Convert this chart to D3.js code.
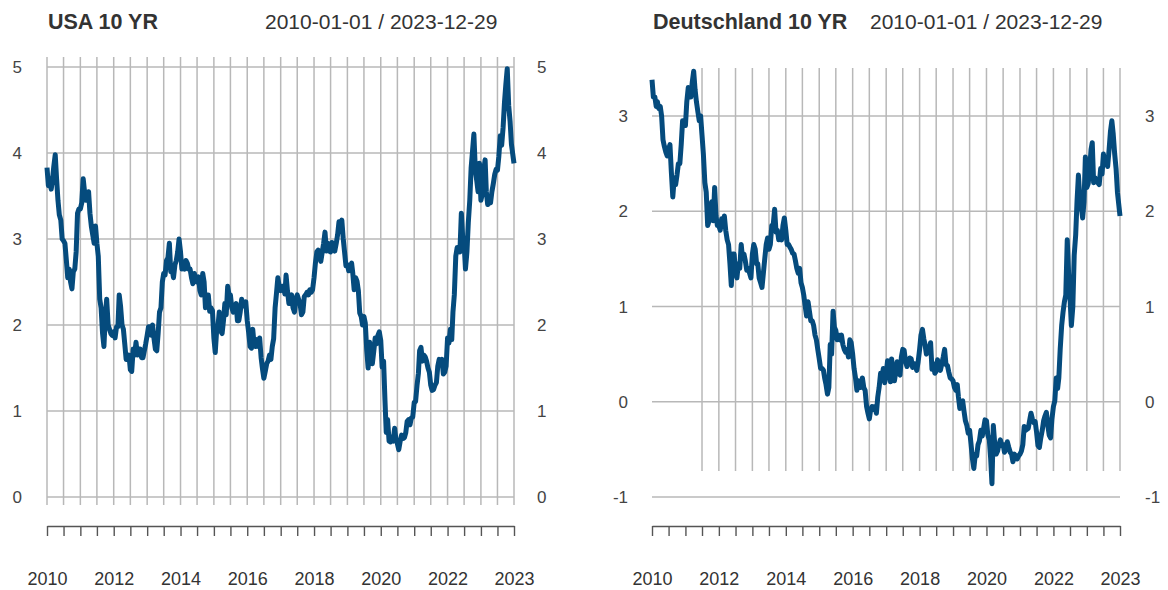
<!DOCTYPE html>
<html>
<head>
<meta charset="utf-8">
<script src="https://cdn.jsdelivr.net/npm/d3@7"></script>
<style>
  body { margin: 0; background: #fff; }
  text { font-family: "Liberation Sans", Arial, sans-serif; }
</style>
</head>
<body>
<script>
// semi-monthly readings (1st and 16th of each month), Jan 2010 .. Dec 2023
var usaYield = [
  3.83,3.62, 3.70,3.58, 3.68,3.84, 3.98,3.70, 3.45,3.28, 3.22,3.00, 2.98,2.95, 2.75,2.55, 2.65,2.50, 2.42,2.62, 2.65,2.85, 3.30,3.35,
  3.35,3.42, 3.70,3.55, 3.45,3.45, 3.55,3.30, 3.15,3.05, 2.95,3.15, 2.95,2.80, 2.30,2.20, 1.90,1.75, 2.10,2.30, 2.00,1.95, 1.90,1.88,
  1.92,1.85, 1.98,1.98, 2.35,2.22, 2.00,1.95, 1.78,1.60, 1.62,1.65, 1.48,1.46, 1.72,1.65, 1.80,1.65, 1.72,1.72, 1.62,1.62, 1.70,1.78,
  1.88,1.98, 1.98,1.88, 2.00,1.85, 1.72,1.70, 1.90,2.15, 2.20,2.50, 2.60,2.58, 2.75,2.78, 2.95,2.62, 2.65,2.55, 2.70,2.75, 2.85,3.00,
  2.85,2.65, 2.72,2.65, 2.75,2.72, 2.65,2.65, 2.55,2.48, 2.60,2.53, 2.50,2.56, 2.40,2.35, 2.60,2.50, 2.20,2.35, 2.35,2.16, 2.20,2.17,
  1.85,1.68, 1.95,2.00, 2.15,1.93, 1.90,2.05, 2.25,2.12, 2.45,2.35, 2.35,2.20, 2.15,2.20, 2.25,2.05, 2.05,2.15, 2.30,2.22, 2.25,2.27,
  2.05,1.92, 1.75,1.73, 1.95,1.78, 1.75,1.83, 1.75,1.85, 1.62,1.49, 1.38,1.46, 1.55,1.58, 1.65,1.60, 1.75,1.84, 2.20,2.37, 2.55,2.45,
  2.40,2.45, 2.45,2.36, 2.58,2.40, 2.25,2.28, 2.35,2.20, 2.15,2.30, 2.35,2.30, 2.25,2.12, 2.15,2.33, 2.35,2.38, 2.35,2.41, 2.38,2.41,
  2.55,2.72, 2.85,2.87, 2.85,2.74, 2.85,2.95, 3.08,2.86, 2.95,2.86, 2.85,2.96, 2.90,2.86, 2.95,3.05, 3.20,3.15, 3.22,3.01, 2.85,2.69,
  2.70,2.63, 2.68,2.72, 2.60,2.41, 2.55,2.51, 2.40,2.14, 2.10,2.00, 2.10,2.02, 1.70,1.50, 1.80,1.68, 1.55,1.69, 1.85,1.78, 1.88,1.92,
  1.82,1.51, 1.58,1.13, 0.75,0.90, 0.65,0.64, 0.70,0.65, 0.80,0.66, 0.62,0.55, 0.65,0.72, 0.68,0.69, 0.75,0.88, 0.90,0.84, 0.92,0.93,
  1.10,1.11, 1.30,1.44, 1.70,1.74, 1.58,1.65, 1.63,1.58, 1.50,1.45, 1.30,1.24, 1.25,1.30, 1.33,1.52, 1.60,1.55, 1.60,1.43, 1.45,1.52,
  1.85,1.79, 1.95,1.83, 2.15,2.35, 2.80,2.90, 2.90,2.85, 3.30,3.01, 2.95,2.65, 2.85,3.19, 3.45,3.83, 4.02,4.22, 3.80,3.68, 3.55,3.88,
  3.45,3.52, 3.80,3.92, 3.55,3.40, 3.45,3.42, 3.55,3.64, 3.75,3.81, 3.80,3.96, 4.20,4.09, 4.30,4.59, 4.80,4.98, 4.55,4.37, 4.10,3.88
];
var deYield = [
  3.38,3.20, 3.20,3.10, 3.15,3.08, 3.10,3.00, 2.75,2.68, 2.62,2.58, 2.65,2.70, 2.40,2.15, 2.35,2.28, 2.38,2.50, 2.50,2.70, 2.95,2.95,
  2.90,3.15, 3.30,3.20, 3.20,3.35, 3.47,3.28, 3.15,3.05, 2.95,3.00, 2.80,2.60, 2.30,2.20, 1.85,1.90, 2.05,2.10, 1.90,2.25, 1.95,1.85,
  1.85,1.80, 1.92,1.85, 1.95,1.80, 1.70,1.65, 1.45,1.22, 1.55,1.55, 1.35,1.30, 1.45,1.40, 1.65,1.50, 1.55,1.48, 1.38,1.40, 1.35,1.30,
  1.55,1.65, 1.60,1.45, 1.45,1.30, 1.25,1.20, 1.35,1.50, 1.65,1.72, 1.60,1.65, 1.85,1.85, 2.02,1.78, 1.80,1.70, 1.75,1.70, 1.85,1.93,
  1.80,1.65, 1.65,1.62, 1.60,1.56, 1.55,1.48, 1.40,1.35, 1.40,1.25, 1.20,1.12, 1.00,0.90, 1.05,0.95, 0.85,0.85, 0.80,0.70, 0.65,0.55,
  0.45,0.35, 0.35,0.33, 0.25,0.18, 0.08,0.15, 0.60,0.50, 0.95,0.78, 0.75,0.65, 0.70,0.65, 0.70,0.60, 0.55,0.52, 0.55,0.47, 0.65,0.62,
  0.50,0.35, 0.25,0.12, 0.22,0.15, 0.15,0.25, 0.15,0.12, -0.05,-0.12, -0.18,-0.08, -0.05,-0.08, -0.05,-0.12, 0.05,0.15, 0.30,0.25, 0.35,0.20,
  0.30,0.43, 0.35,0.21, 0.45,0.33, 0.22,0.32, 0.42,0.30, 0.28,0.47, 0.55,0.54, 0.42,0.37, 0.40,0.46, 0.45,0.36, 0.40,0.37, 0.33,0.42,
  0.55,0.70, 0.76,0.66, 0.60,0.50, 0.55,0.56, 0.62,0.34, 0.40,0.30, 0.32,0.44, 0.35,0.33, 0.40,0.47, 0.55,0.39, 0.38,0.31, 0.25,0.24,
  0.22,0.15, 0.12,0.18, 0.05,-0.07, 0.00,0.01, -0.10,-0.20, -0.25,-0.33, -0.30,-0.44, -0.60,-0.70, -0.55,-0.57, -0.45,-0.41, -0.30,-0.36, -0.28,-0.19,
  -0.20,-0.35, -0.40,-0.60, -0.86,-0.25, -0.45,-0.55, -0.52,-0.45, -0.40,-0.46, -0.45,-0.53, -0.50,-0.42, -0.48,-0.53, -0.55,-0.63, -0.55,-0.57, -0.60,-0.57,
  -0.55,-0.52, -0.45,-0.26, -0.30,-0.29, -0.28,-0.20, -0.12,-0.18, -0.22,-0.21, -0.32,-0.46, -0.48,-0.38, -0.30,-0.20, -0.15,-0.11, -0.25,-0.35, -0.38,-0.18,
  -0.05,0.01, 0.25,0.14, 0.25,0.55, 0.80,0.94, 1.05,1.12, 1.70,1.34, 1.10,0.80, 1.00,1.54, 1.75,2.11, 2.38,2.14, 2.05,1.93, 2.10,2.57,
  2.25,2.29, 2.45,2.65, 2.72,2.30, 2.35,2.31, 2.30,2.28, 2.45,2.39, 2.60,2.49, 2.55,2.47, 2.65,2.84, 2.95,2.81, 2.60,2.45, 2.20,1.95
];
var startDate = new Date(2010, 0, 1);
var endDate = new Date(2023, 11, 29);
var usaTicks = [0, 1, 2, 3, 4, 5];
var deTicks = [-1, 0, 1, 2, 3];
var yearLabels = [2010, 2012, 2014, 2016, 2018, 2020, 2022];

var dates = d3.range(usaYield.length).map(function(i) {
  return new Date(2010, Math.floor(i / 2), i % 2 ? 16 : 1);
});
dates[0] = startDate;
dates[dates.length - 1] = endDate;

var svg = d3.select("body")
  .append("svg")
  .attr("width", 1168)
  .attr("height", 590);

var panels = [
  { title: "USA 10 YR", values: usaYield, ticks: usaTicks, domain: [0, 5], yRange: [497, 67],
    x0: 47, x1: 514, dateX: 265, leftLab: 22, rightLab: 537, gridTop: 57, gridBottom: 505, gridFrom: startDate },
  { title: "Deutschland 10 YR", values: deYield, ticks: deTicks, domain: [-1, 3], yRange: [497, 116],
    x0: 652, x1: 1120, dateX: 870, leftLab: 628, rightLab: 1145, gridTop: 68, gridBottom: 471, gridFrom: new Date(2011, 6, 1) }
];

panels.forEach(function(p) {
  var g = svg.append("g");
  var x = d3.scaleTime().domain([startDate, endDate]).range([p.x0, p.x1]);
  var y = d3.scaleLinear().domain(p.domain).range(p.yRange);

  var halfYears = d3.timeMonth.every(6).range(startDate, endDate).concat([endDate]);

  // titles
  g.append("text")
    .attr("x", p.x0 + 1).attr("y", 29)
    .style("font-size", "21.5px").style("font-weight", "bold").style("fill", "#333")
    .text(p.title);
  g.append("text")
    .attr("x", p.dateX).attr("y", 29)
    .style("font-size", "21px").style("fill", "#333")
    .text("2010-01-01 / 2023-12-29");

  // grid
  g.selectAll(".hgrid")
    .data(p.ticks)
    .enter()
    .append("line")
    .attr("x1", p.x0).attr("x2", p.x1)
    .attr("y1", function(d) { return y(d) }).attr("y2", function(d) { return y(d) })
    .style("stroke", "#b8b8b8").style("stroke-width", 1.5);

  g.selectAll(".vgrid")
    .data(halfYears.filter(function(d) { return d >= p.gridFrom }))
    .enter()
    .append("line")
    .attr("x1", function(d) { return x(d) }).attr("x2", function(d) { return x(d) })
    .attr("y1", p.gridTop).attr("y2", p.gridBottom)
    .style("stroke", "#b8b8b8").style("stroke-width", 1.5);

  // y labels both sides
  [["end", p.leftLab], ["start", p.rightLab]].forEach(function(s) {
    g.selectAll(".ylab" + s[0])
      .data(p.ticks)
      .enter()
      .append("text")
      .attr("x", s[1])
      .attr("y", function(d) { return y(d) + 6 })
      .attr("text-anchor", s[0])
      .style("font-size", "17px").style("fill", "#444")
      .text(function(d) { return d });
  });

  // data line
  var line = d3.line()
    .x(function(d, i) { return x(dates[i]) })
    .y(function(d) { return y(d) });
  g.append("path")
    .attr("d", line(p.values))
    .style("fill", "none")
    .style("stroke", "#054b7d")
    .style("stroke-width", 5)
    .style("stroke-linejoin", "round");

  // x axis
  var axis = d3.axisBottom(x)
    .tickValues(halfYears)
    .tickSize(10)
    .tickSizeOuter(0)
    .tickPadding(36)
    .tickFormat(function(d) {
      if (+d === +endDate) return "2023";
      if (d.getMonth() === 0 && yearLabels.indexOf(d.getFullYear()) >= 0) return d.getFullYear();
      return "";
    });
  var ax = g.append("g").attr("transform", "translate(0,526)").call(axis);
  ax.select(".domain").style("stroke", "#555").style("stroke-width", 1.6);
  ax.selectAll(".tick line").style("stroke", "#555").style("stroke-width", 1.4);
  ax.selectAll(".tick text")
    .style("font-size", "18px")
    .style("font-family", "'Liberation Sans', Arial, sans-serif")
    .style("fill", "#333");
});
</script>
</body>
</html>
